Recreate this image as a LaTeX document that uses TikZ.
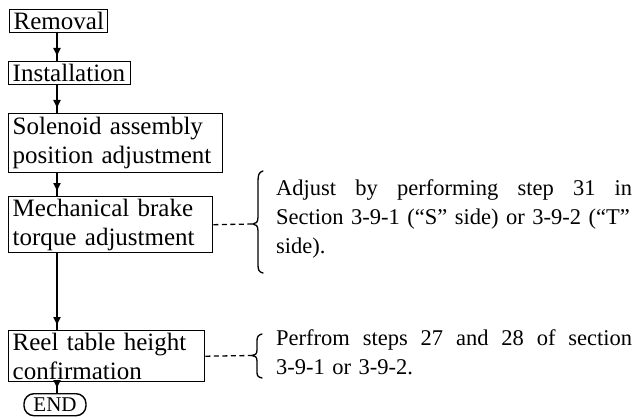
\documentclass[tikz,border=0pt]{standalone}
\usepackage{fontspec}
\setmainfont{Liberation Serif}
\usetikzlibrary{arrows.meta,decorations.markings}
\newcommand{\fullline}[1]{\leavevmode\hbox to 356pt{#1}}
\tikzset{
  stepbox/.style={draw, line width=1.4pt, inner xsep=4pt, inner ysep=0pt, anchor=north west, align=left, font=\fontsize{25}{29}\selectfont},
  endbox/.style={draw, line width=1.4pt, rounded corners=10pt, minimum width=62pt, minimum height=22pt, inner sep=0pt, anchor=north, font=\fontsize{21}{25}\selectfont},
  flow/.style={line width=2pt, postaction={decorate}, decoration={markings, mark=at position -5pt with {\arrow{Triangle[length=8pt,width=7pt]}}}},
  leader/.style={line width=1.3pt, dash pattern=on 5pt off 3.5pt},
  bracepath/.style={line width=1.3pt, line cap=round},
  note/.style={anchor=north west, inner sep=0pt, align=left, text width=357pt, font=\fontsize{22.5}{29}\selectfont},
}
\begin{document}
\begin{tikzpicture}[x=1pt,y=-1pt]
\fill[white] (0,0) rectangle (636,417);
\useasboundingbox (0,0) rectangle (636,417);
\coordinate (colx) at (57,0);
% flow boxes
\node[stepbox, text width=90pt, minimum height=23pt] (removal) at (9,9) {Removal};
\node[stepbox, text width=114pt, minimum height=23pt] (install) at (8,61) {Installation};
\node[stepbox, text width=206pt, minimum height=59pt] (solenoid) at (8,113) {Solenoid assembly\\position adjustment};
\node[stepbox, text width=196pt, minimum height=56pt] (brake) at (8,196) {Mechanical brake\\torque adjustment};
\node[stepbox, text width=188pt, minimum height=51pt] (reel) at (8,330) {Reel table height\\confirmation};
\node[endbox] (endnode) at (55,393) {END};
% arrows
\draw[flow] (removal.south -| colx) -- (install.north -| colx);
\draw[flow] (install.south -| colx) -- (solenoid.north -| colx);
\draw[flow] (solenoid.south -| colx) -- (brake.north -| colx);
\draw[flow] (brake.south -| colx) -- (reel.north -| colx);
\draw[flow] (reel.south -| colx) -- (endnode.north -| colx);
% leaders and braces
\coordinate (tip1) at (253,224);
\coordinate (tip2) at (252,355.5);
\draw[leader] (brake.east) -- (tip1);
\draw[leader] (reel.east) -- (tip2);
\draw[bracepath] (263,171) .. controls (259,172) and (258,175) .. (258,181) -- (258,217) .. controls (258,222) and (256,224) .. (tip1) .. controls (256,224) and (258,226) .. (258,231) -- (258,265) .. controls (258,270) and (259,272) .. (263,273);
\draw[bracepath] (262,334) .. controls (258,335) and (257,337) .. (257,341) -- (257,350) .. controls (257,354) and (255,355.5) .. (tip2) .. controls (255,355.5) and (257,357) .. (257,361) -- (257,372) .. controls (257,376) and (258,377) .. (262,378);
% notes
\node[note] (note1) at (276,179) {\fullline{Adjust\hfill by\hfill performing\hfill step\hfill 31\hfill in}\\\fullline{Section 3-9-1 (“S” side) or 3-9-2 (“T”}\\side).};
\node[note] (note2) at (276,329) {\fullline{Perfrom\hfill steps\hfill 27\hfill and\hfill 28\hfill of\hfill section}\\3-9-1 or 3-9-2.};
\end{tikzpicture}
\end{document}
